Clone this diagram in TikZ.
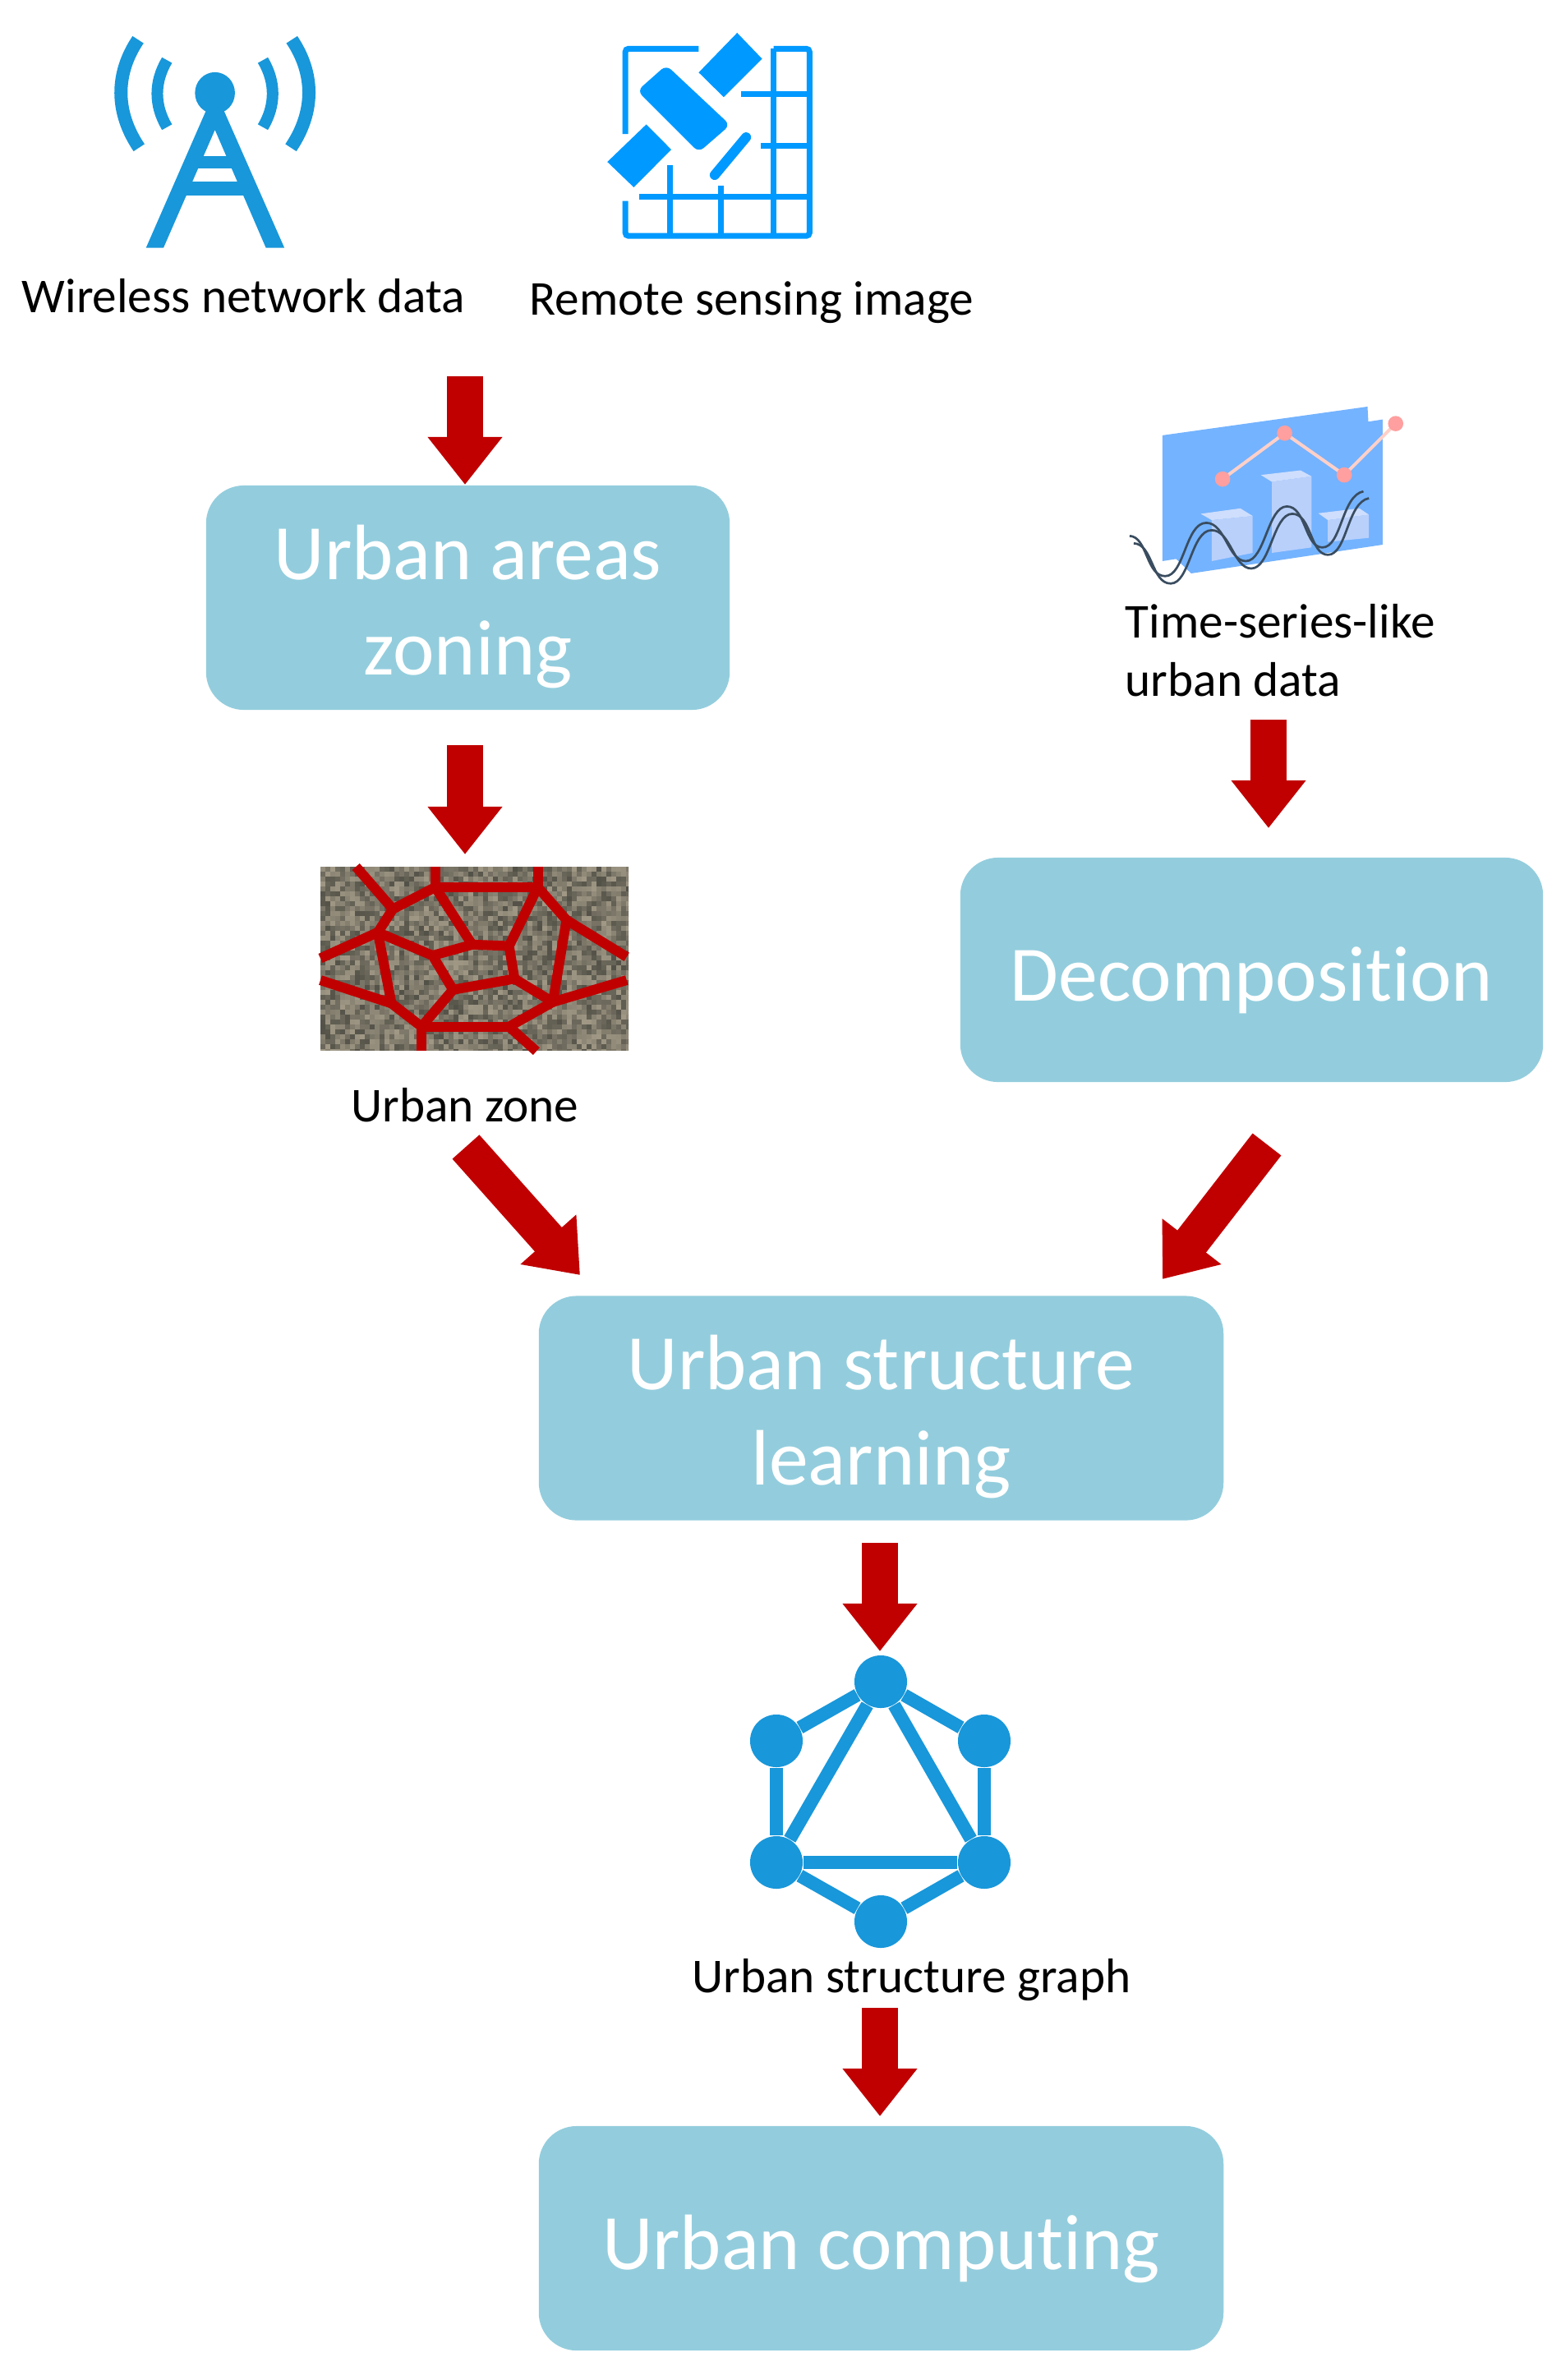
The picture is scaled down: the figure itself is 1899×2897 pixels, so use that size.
\documentclass[tikz,border=0pt]{standalone}
\usepackage{fontspec}
\setmainfont[Ligatures=NoCommon]{Carlito}
\usetikzlibrary{arrows.meta}

\definecolor{boxblue}{HTML}{93CDDD}
\definecolor{arrowred}{HTML}{C00000}
\definecolor{iconblue}{HTML}{1897DA}
\definecolor{satblue}{HTML}{0099FF}
\definecolor{panelblue}{HTML}{74B3FF}
\definecolor{barblue}{HTML}{B9D0FB}
\definecolor{dotpink}{HTML}{FF9F9F}
\definecolor{linkpink}{HTML}{FFD0C8}
\definecolor{wavedark}{HTML}{3A4D60}
\definecolor{zonedark}{HTML}{33342E}
\definecolor{zonelight}{HTML}{B5AB96}

\tikzset{
    stagebox/.style={fill=boxblue, rounded corners=0.46cm, text=white, inner sep=0pt,
        minimum height=2.73cm, align=center, font=\fontsize{27.2}{33}\selectfont},
    caption/.style={inner sep=0pt, anchor=base west, align=left, font=\fontsize{16.85}{20}\selectfont},
    bigarrow/.style={arrowred, line width=0.44cm, -{Triangle[length=0.58cm,width=0.87cm]}},
    graphdot/.style={circle, fill=iconblue, minimum size=0.64cm, inner sep=0pt},
    graphedge/.style={iconblue, line width=0.16cm},
    zoneedge/.style={arrowred, line width=0.12cm},
    gridline/.style={satblue, line width=0.07cm}
}

\begin{document}
\begin{tikzpicture}[x=0.01cm, y=-0.01cm]

    \useasboundingbox (0,0) rectangle (1899,2897);

    % Stages
    \node[stagebox, minimum width=6.37cm] (zoning) at (569.5,727.5) {\rule{0pt}{25pt}Urban areas\\zoning};
    \node[stagebox, minimum width=7.09cm] (decomp) at (1523.5,1180.5) {\rule{0pt}{26pt}Decomposition};
    \node[stagebox, minimum width=8.33cm] (learning) at (1072.5,1714) {\rule{0pt}{25pt}Urban structure\\learning};
    \node[stagebox, minimum width=8.33cm] (computing) at (1072.5,2724.5) {\rule{0pt}{26pt}Urban computing};

    % Captions
    \node[caption] (wireless) at (26,380) {Wireless network data};
    \node[caption] (remote) at (644,383) {Remote sensing image};
    \node[caption] (series) at (1369,847) {Time-series-like\\urban data};
    \node[caption] (zone) at (427,1365) {Urban zone};
    \node[caption] (graph) at (842,2425) {Urban structure graph};

    % Arrow ends
    \coordinate (a1) at (566,458);
    \coordinate (a2) at (566,590);
    \coordinate (b1) at (566,907);
    \coordinate (b2) at (566,1040);
    \coordinate (c1) at (1544,876);
    \coordinate (c2) at (1544,1008);
    \coordinate (d1) at (567,1396);
    \coordinate (d2) at (706,1552);
    \coordinate (e1) at (1542,1393);
    \coordinate (e2) at (1415,1557);
    \coordinate (f1) at (1071,1878);
    \coordinate (f2) at (1071,2010);
    \coordinate (g1) at (1071,2444);
    \coordinate (g2) at (1071,2576);

    \draw[bigarrow] (a1) -- (a2);
    \draw[bigarrow] (b1) -- (b2);
    \draw[bigarrow] (c1) -- (c2);
    \draw[bigarrow] (d1) -- (d2);
    \draw[bigarrow] (e1) -- (e2);
    \draw[bigarrow] (f1) -- (f2);
    \draw[bigarrow] (g1) -- (g2);

    % Graph icon
    \node[graphdot] (top) at (1072,2047) {};
    \node[graphdot] (upleft) at (945,2119) {};
    \node[graphdot] (upright) at (1198,2119) {};
    \node[graphdot] (lowleft) at (945,2267) {};
    \node[graphdot] (lowright) at (1198,2267) {};
    \node[graphdot] (bottom) at (1072,2339) {};
    \foreach \p/\q in {top/upleft, top/upright, upleft/lowleft, upright/lowright,
        lowleft/lowright, lowleft/bottom, lowright/bottom, top/lowleft, top/lowright}
        \draw[graphedge] (\p) -- (\q);

    % Tower icon
    \begin{scope}[shift={(100,20)}, x=0.00607cm, y=-0.00333cm]
        \fill[iconblue] (266,280) ellipse (40 and 76);
        \fill[iconblue] (248,345) -- (128,846) -- (163,846) -- (266,415) -- (368,846)
            -- (405,846) -- (284,345) -- cycle;
        \fill[iconblue] (228,510) rectangle (304,555);
        \fill[iconblue] (205,605) rectangle (330,655);
        \foreach \s in {1,-1} {
            \draw[iconblue, line width=0.16cm] ({266-\s*154},85) .. controls ({266-\s*200},210) and ({266-\s*200},350) .. ({266-\s*152},480);
            \draw[iconblue, line width=0.14cm] ({266-\s*96},160) .. controls ({266-\s*122},240) and ({266-\s*122},325) .. ({266-\s*96},405);
        }
    \end{scope}

    % Satellite icon
    \begin{scope}[shift={(100,20)}, x=0.00607cm, y=-0.00333cm]
        \draw[gridline, rounded corners=0.04cm] (1088,430) -- (1088,118) -- (1235,118);
        \draw[gridline, rounded corners=0.04cm] (1385,118) -- (1457,118) -- (1457,803) -- (1088,803) -- (1088,675);
        \draw[gridline] (1385,118) -- (1385,803);
        \draw[gridline] (1177,545) -- (1177,803);
        \draw[gridline] (1280,620) -- (1280,803);
        \draw[gridline] (1320,285) -- (1457,285);
        \draw[gridline] (1360,472) -- (1457,472);
        \draw[gridline] (1115,660) -- (1457,660);
        \fill[satblue] (1312,60) -- (1362,155) -- (1285,295) -- (1235,205) -- cycle;
        \fill[satblue] (1130,395) -- (1180,487) -- (1105,625) -- (1052,532) -- cycle;
        \fill[satblue, rounded corners=0.08cm] (1170,178) -- (1112,272) -- (1235,497) -- (1298,397) -- cycle;
        \draw[satblue, line width=0.12cm, line cap=round] (1330,442) -- (1267,580);
    \end{scope}

    % Time series icon
    \begin{scope}[shift={(1340,470)}, x=0.00333cm, y=-0.00333cm]
        \fill[panelblue] (225,180) -- (975,75) -- (978,130) -- (1030,122) -- (1030,580)
            -- (330,685) -- (275,632) -- (225,640) -- cycle;
        \fill[barblue] (405,490) -- (555,475) -- (555,610) -- (405,640) -- cycle;
        \fill[barblue!70!white] (365,467) -- (510,447) -- (555,475) -- (405,490) -- cycle;
        \fill[barblue] (625,350) -- (770,330) -- (770,590) -- (625,610) -- cycle;
        \fill[barblue!70!white] (585,325) -- (730,308) -- (770,330) -- (625,350) -- cycle;
        \fill[barblue] (830,490) -- (980,470) -- (980,555) -- (830,570) -- cycle;
        \fill[barblue!70!white] (795,465) -- (945,447) -- (980,470) -- (830,490) -- cycle;
        \draw[linkpink, line width=0.04cm] (445,340) -- (672,172) -- (890,325) -- (1078,137);
        \foreach \x/\y in {445/340, 672/172, 890/325, 1078/137}
            \fill[dotpink] (\x,\y) circle (28);
        \draw[wavedark, line width=0.027cm] (105,548) .. controls (170,550) and (165,695) .. (235,695)
            .. controls (305,695) and (310,500) .. (385,500) .. controls (455,500) and (465,640) .. (530,640)
            .. controls (600,640) and (610,440) .. (680,440) .. controls (750,440) and (745,590) .. (810,590)
            .. controls (880,590) and (880,400) .. (960,385);
        \draw[wavedark, line width=0.027cm] (120,575) .. controls (190,577) and (185,722) .. (255,722)
            .. controls (325,722) and (330,527) .. (405,527) .. controls (475,527) and (485,667) .. (550,667)
            .. controls (620,667) and (630,467) .. (700,467) .. controls (770,467) and (765,617) .. (830,617)
            .. controls (900,617) and (900,425) .. (980,410);
    \end{scope}

    % Urban zone picture
    \begin{scope}
        \clip (390,1055) rectangle (765,1278);
        \pgfmathsetseed{17}
        \foreach \x in {390,396,...,765}
            \foreach \y in {1055,1061,...,1278} {
                \pgfmathsetmacro{\mix}{int(25+60*rnd)}
                \fill[zonelight!\mix!zonedark] (\x,\y) rectangle +(6.5,6.5);
            }
    \end{scope}
    \begin{scope}[shift={(370,1030)}, x=0.00333cm, y=-0.00333cm]
        \coordinate (z1) at (480,150);
        \coordinate (z2) at (855,150);
        \coordinate (z3) at (325,230);
        \coordinate (z4) at (270,315);
        \coordinate (z5) at (470,400);
        \coordinate (z6) at (615,360);
        \coordinate (z7) at (750,365);
        \coordinate (z8) at (770,485);
        \coordinate (z9) at (545,525);
        \coordinate (z10) at (960,270);
        \coordinate (z11) at (910,570);
        \coordinate (z12) at (320,575);
        \coordinate (z13) at (430,660);
        \coordinate (z14) at (750,660);
        \coordinate (s1) at (480,75);
        \coordinate (s2) at (855,75);
        \coordinate (s3) at (190,75);
        \coordinate (s4) at (60,410);
        \coordinate (s5) at (1180,405);
        \coordinate (s6) at (1180,490);
        \coordinate (s7) at (60,490);
        \coordinate (s8) at (430,748);
        \coordinate (s9) at (850,750);
        \foreach \p/\q in {z1/z2, z1/z3, z3/z4, z4/z5, z4/z12, z5/z6, z6/z1, z6/z7, z7/z2,
            z7/z8, z8/z9, z9/z5, z9/z13, z12/z13, z13/z14, z14/z11, z11/z8, z11/z10, z10/z2}
            \draw[zoneedge, line cap=round] (\p) -- (\q);
        \foreach \p/\q in {s1/z1, s2/z2, s3/z3, s4/z4, s5/z10, s6/z11, s7/z12, s8/z13, s9/z14}
            \draw[zoneedge] (\p) -- (\q);
    \end{scope}

\end{tikzpicture}
\end{document}
